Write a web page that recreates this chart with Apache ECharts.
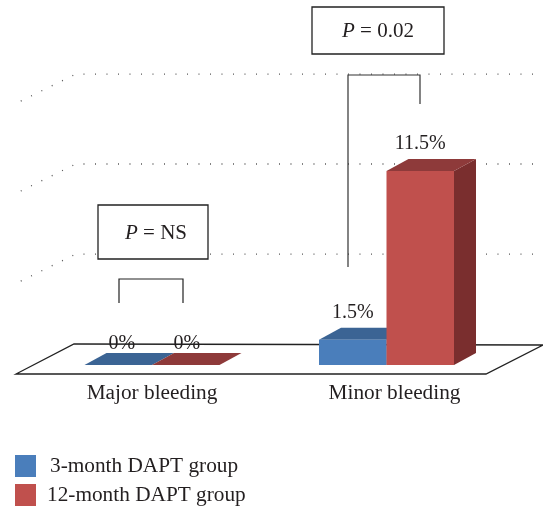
<!DOCTYPE html>
<html><head><meta charset="utf-8">
<style>html,body{margin:0;padding:0;background:#fff}#c{width:543px;height:508px}</style>
<script src="https://cdn.jsdelivr.net/npm/echarts@6/dist/echarts.min.js"></script>
</head><body><div id="c"></div>
<script>
const categories = ['Major bleeding', 'Minor bleeding'];
const shortTerm = [0, 1.5];
const longTerm = [0, 11.5];
const gridLevels = [5.33, 10.67, 16];
const seriesNames = ['3-month DAPT group', '12-month DAPT group'];

const FONT = '"Liberation Serif", serif';
const TEXT = '#231f20';
const DX = 22, DY = 12, BAR = 67.5;

function barSeries(name, values, side, front, top, right) {
  return {
    name, type: 'custom', coordinateSystem: 'cartesian2d', z: 3,
    itemStyle: { color: front },
    data: values.map((v, i) => [i, v]),
    renderItem(params, api) {
      const v = api.value(1);
      const base = api.coord([api.value(0), 0]);
      const tip = api.coord([api.value(0), v]);
      const x0 = base[0] + (side < 0 ? -BAR : 0), x1 = x0 + BAR;
      const yb = base[1], yt = tip[1];
      const children = [
        { type: 'polygon', shape: { points: [[x1, yb], [x1 + DX, yb - DY], [x1 + DX, yt - DY], [x1, yt]] }, style: { fill: right } },
        { type: 'polygon', shape: { points: [[x0, yt], [x0 + DX, yt - DY], [x1 + DX, yt - DY], [x1, yt]] }, style: { fill: top } }
      ];
      if (v > 0) children.push({ type: 'rect', shape: { x: x0, y: yt, width: BAR, height: yb - yt }, style: { fill: front } });
      children.push({
        type: 'text', z2: 10,
        style: {
          text: v + '%', x: v > 0 ? (x0 + x1) / 2 : (x0 + x1) / 2 + (side < 0 ? 3.5 : 1), y: yt - DY - (v > 0 ? 15 : 9),
          align: 'center', verticalAlign: 'middle', fill: TEXT, font: '20px ' + FONT
        }
      });
      return { type: 'group', children };
    }
  };
}

function legendFor(name, top, pad) {
  return {
    orient: 'vertical', left: 10, top, itemWidth: 21, itemHeight: 22,
    data: [name], icon: 'rect',
    formatter: n => '{t|' + n + '}',
    textStyle: { rich: { t: { fontFamily: FONT, fontSize: 21.3, color: TEXT, padding: [0, 0, 0, pad] } } }
  };
}

const option = {
  animation: false,
  backgroundColor: '#fff',
  grid: { left: 34.75, width: 469, top: 27.6, height: 337.4 },
  xAxis: {
    type: 'category', data: categories,
    axisLine: { show: false }, axisTick: { show: false },
    axisLabel: {
      margin: 18, interval: 0,
      formatter: (v, i) => i === 1 ? '{b|' + v + '}' : '{a|' + v + '}',
      rich: {
        a: { fontFamily: FONT, fontSize: 21.3, color: TEXT },
        b: { fontFamily: FONT, fontSize: 21.3, color: TEXT, padding: [0, 0, 0, 16] }
      }
    }
  },
  yAxis: { type: 'value', min: 0, max: 20, show: false, splitLine: { show: false } },
  legend: [legendFor(seriesNames[0], 450, 9), legendFor(seriesNames[1], 479, 6)],
  graphic: [
    { type: 'polygon', z: 0, silent: true, shape: { points: [[16, 374], [486, 374], [543, 345], [74, 344]] }, style: { fill: '#fff', stroke: '#222', lineWidth: 1.3 } },
    { type: 'polyline', z: 5, shape: { points: [[119, 303], [119, 279], [183, 279], [183, 303]] }, style: { fill: 'none', stroke: '#222', lineWidth: 1.2 } },
    { type: 'polyline', z: 5, shape: { points: [[348, 267], [348, 75], [420, 75], [420, 104]] }, style: { fill: 'none', stroke: '#333', lineWidth: 1.2 } },
    { type: 'rect', z: 5, shape: { x: 98, y: 205, width: 110, height: 54 }, style: { fill: '#fff', stroke: '#222', lineWidth: 1.3 } },
    { type: 'rect', z: 5, shape: { x: 312, y: 7, width: 132, height: 47 }, style: { fill: '#fff', stroke: '#222', lineWidth: 1.3 } },
    { type: 'text', z: 6, style: { x: 156, y: 233, text: '{i|P} = NS', align: 'center', verticalAlign: 'middle', rich: { i: { fontFamily: FONT, fontStyle: 'italic', fontSize: 21, fill: TEXT } }, font: '21px ' + FONT, fill: TEXT } },
    { type: 'text', z: 6, style: { x: 378, y: 31, text: '{i|P} = 0.02', align: 'center', verticalAlign: 'middle', rich: { i: { fontFamily: FONT, fontStyle: 'italic', fontSize: 21, fill: TEXT } }, font: '21px ' + FONT, fill: TEXT } }
  ],
  series: [
    {
      type: 'custom', coordinateSystem: 'cartesian2d', z: 1, silent: true,
      data: gridLevels.map(v => [0, v]),
      renderItem(params, api) {
        const y = api.coord([0, api.value(1)])[1] - 21;
        const cs = params.coordSys;
        return {
          type: 'polyline',
          shape: { points: [[cs.x - 14, y + 27], [cs.x + 41, y], [cs.x + cs.width + 34, y]] },
          style: { fill: 'none', stroke: '#555', lineWidth: 1.3, lineDash: [1, 10.5] }
        };
      }
    },
    barSeries(seriesNames[0], shortTerm, -1, '#4a7ebb', '#3b6494', '#3b6494'),
    barSeries(seriesNames[1], longTerm, 1, '#c0504d', '#8e3a3a', '#7a2e2e')
  ]
};
echarts.init(document.getElementById('c'), null, { renderer: 'canvas' }).setOption(option);
</script></body></html>
